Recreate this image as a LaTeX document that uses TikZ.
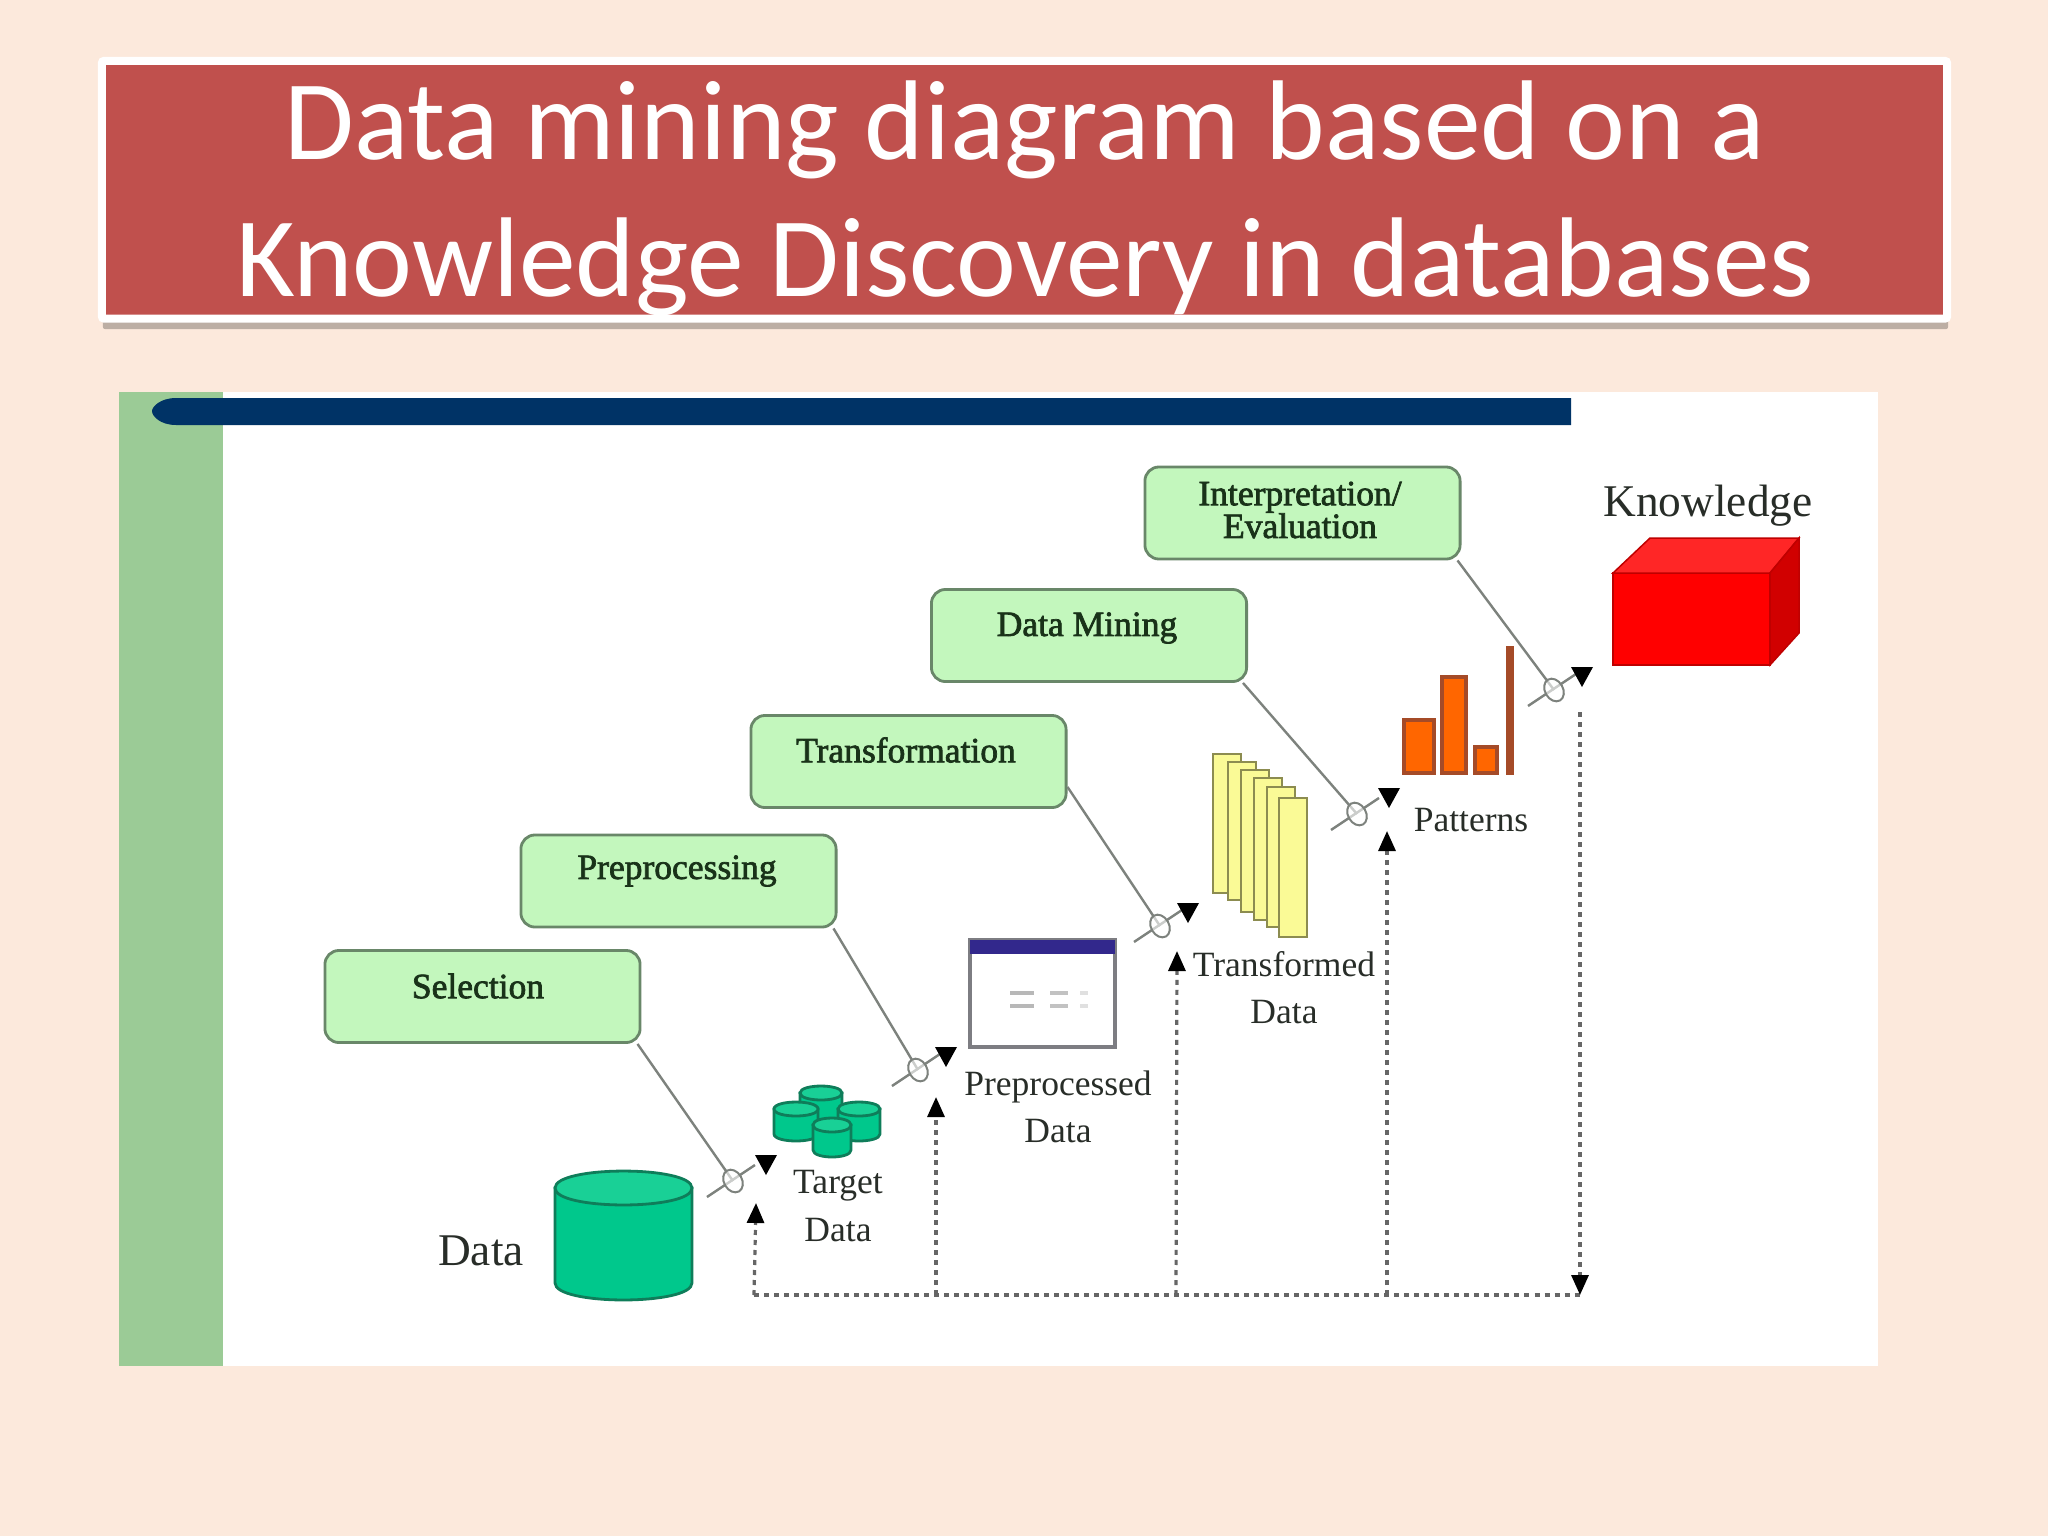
\documentclass[tikz,border=0pt]{standalone}
\usepackage{fontspec}
\usepackage{xcolor}
\usepackage{tikz}
\usetikzlibrary{arrows.meta}
\usetikzlibrary{shadows}
\setmainfont{Liberation Serif}
\newfontfamily\titlefont{Carlito}
\newfontfamily\stepfont[FakeBold=2]{Liberation Serif}

\definecolor{pagecol}{RGB}{252,233,220}
\definecolor{titlecol}{RGB}{192,80,77}
\definecolor{bandcol}{RGB}{155,203,150}
\definecolor{barcol}{RGB}{0,51,102}
\definecolor{stepcol}{RGB}{195,247,189}
\definecolor{stepline}{RGB}{105,135,105}
\definecolor{stickcol}{RGB}{125,130,125}
\definecolor{drumcol}{RGB}{0,200,140}
\definecolor{drumtop}{RGB}{25,208,150}
\definecolor{drumline}{RGB}{15,125,90}
\definecolor{sheetcol}{RGB}{250,250,150}
\definecolor{sheetline}{RGB}{140,140,80}
\definecolor{pillarcol}{RGB}{255,102,0}
\definecolor{pillarline}{RGB}{165,75,40}
\definecolor{inkcol}{RGB}{40,45,40}
\definecolor{stepink}{RGB}{25,50,25}
\definecolor{framecol}{RGB}{125,125,130}
\definecolor{capcol}{RGB}{50,40,140}

% left, right, y of upper rim, rim height, y of lower rim
\newcommand{\drum}[5]{
	\draw[line width=.028cm, draw=drumline, fill=drumcol] (#1,#3) -- (#1,#5) .. controls (#1,#5+1.33*#4) and (#2,#5+1.33*#4) .. (#2,#5) -- (#2,#3) -- cycle;
	\draw[line width=.028cm, draw=drumline, fill=drumtop] (#1,#3) .. controls (#1,#3-1.33*#4) and (#2,#3-1.33*#4) .. (#2,#3) .. controls (#2,#3+1.33*#4) and (#1,#3+1.33*#4) .. (#1,#3) -- cycle;
}

\begin{document}
\begin{tikzpicture}[x=.01cm, y=-.01cm]
				
				\useasboundingbox (0,0) rectangle (2048,1536);
				\fill[pagecol] (0,0) rectangle (2048,1536);
				
				\tikzstyle{stepbox}=[draw=stepline, fill=stepcol, line width=.028cm, rounded corners=.14cm, inner sep=0pt, minimum width=3.15cm, minimum height=.92cm]
				\tikzstyle{steptext}=[inner sep=0pt, text=stepink, align=center, font=\stepfont\fontsize{10.1}{9.3}\selectfont]
				\tikzstyle{label}=[inner sep=0pt, text=inkcol, align=center, font=\fontsize{10.1}{13.4}\selectfont]
				\tikzstyle{biglabel}=[inner sep=0pt, text=inkcol, font=\fontsize{12.9}{15}\selectfont]
				\tikzstyle{stick}=[stickcol, line width=.024cm]
				\tikzstyle{ring}=[stickcol, line width=.02cm, fill=white, fill opacity=.6]
				\tikzstyle{feedback}=[black!60, line width=.032cm, dash pattern=on .05cm off .05cm]
				\tikzstyle{tip}=[-{Triangle[length=.2cm, width=.17cm, black]}]
				\tikzstyle{sheet}=[draw=sheetline, fill=sheetcol, line width=.026cm]
				\tikzstyle{pillar}=[draw=pillarline, fill=pillarcol, line width=.04cm]
				
				%title
				\node[draw=white, fill=titlecol, line width=.08cm, rounded corners=.02cm, minimum width=18.44cm, minimum height=2.575cm, inner sep=0pt, drop shadow={shadow xshift=.01cm, shadow yshift=-.105cm, opacity=.25, fill=black}] (title) at (1024.5,189.75) {};
				\node[inner sep=0pt, text=white, align=center, font=\titlefont\fontsize{32.25}{38.9}\selectfont] (titletext) at (1025,198.5) {Data mining diagram based on a\\Knowledge Discovery in databases};
				
				%picture area
				\fill[white] (119,392) rectangle (1878,1366);
				\fill[bandcol] (119,392) rectangle (223,1366);
				\fill[barcol] (1571,398) -- (176,398) .. controls (160,398) and (152,407) .. (152,411) .. controls (152,416) and (160,425) .. (176,425) -- (1571,425) -- cycle;
				
				%steps
				\node[stepbox] (sel) at (482.5,996.5) {};
				\node[stepbox] (pre) at (678.5,881) {};
				\node[stepbox] (trans) at (908.5,761.5) {};
				\node[stepbox] (mining) at (1089,635.5) {};
				\node[stepbox] (interp) at (1302.5,513) {};
				
				\node[steptext] (seltext) at (478,986) {Selection};
				\node[steptext] (pretext) at (677,871) {Preprocessing};
				\node[steptext] (transtext) at (906,750) {Transformation};
				\node[steptext] (miningtext) at (1087,628) {Data Mining};
				\node[steptext] (interptext) at (1300,510) {Interpretation/\\Evaluation};
				
				%points where the sticks meet
				\coordinate (g1) at (733,1181);
				\coordinate (g2) at (918,1070);
				\coordinate (g3) at (1160,926);
				\coordinate (g4) at (1357,814);
				\coordinate (g5) at (1554,690);
				
				\draw[stick] ([xshift=-.04cm]sel.south east) to (g1);
				\draw[stick] ([xshift=-.04cm]pre.south east) to (g2);
				\draw[stick] ([yshift=.22cm]trans.south east) to (g3);
				\draw[stick] ([xshift=-.05cm]mining.south east) to (g4);
				\draw[stick] ([xshift=-.04cm]interp.south east) to (g5);
				
				\draw[stick] (707,1197) to (755,1165);
				\draw[stick] (892,1086) to (940,1054);
				\draw[stick] (1134,942) to (1182,910);
				\draw[stick] (1331,830) to (1379,798);
				\draw[stick] (1528,706) to (1576,674);
				
				\draw[ring, shift={(g1)}, rotate=30] (0,0) ellipse (9 and 12);
				\draw[ring, shift={(g2)}, rotate=30] (0,0) ellipse (9 and 12);
				\draw[ring, shift={(g3)}, rotate=30] (0,0) ellipse (9 and 12);
				\draw[ring, shift={(g4)}, rotate=30] (0,0) ellipse (9 and 12);
				\draw[ring, shift={(g5)}, rotate=30] (0,0) ellipse (9 and 12);
				
				\fill[black] (755,1155) -- (777,1155) -- (766,1175) -- cycle;
				\fill[black] (935,1047) -- (957,1047) -- (946,1067) -- cycle;
				\fill[black] (1177,903) -- (1199,903) -- (1188,923) -- cycle;
				\fill[black] (1378,788) -- (1400,788) -- (1389,808) -- cycle;
				\fill[black] (1571,667) -- (1593,667) -- (1582,687) -- cycle;
				
				%feedback
				\coordinate (fb0) at (754,1295);
				\coordinate (fb1) at (936,1295);
				\coordinate (fb2) at (1176,1295);
				\coordinate (fb3) at (1387,1295);
				\coordinate (fb4) at (1580,1295);
				\coordinate (up0) at (756,1203);
				\coordinate (up1) at (936,1097);
				\coordinate (up2) at (1177,951);
				\coordinate (up3) at (1387,831);
				\coordinate (up4) at (1580,712);
				
				\draw[feedback] (fb0) to (fb4);
				\draw[feedback, tip] (fb0) to (up0);
				\draw[feedback, tip] (fb1) to (up1);
				\draw[feedback, tip] (fb2) to (up2);
				\draw[feedback, tip] (fb3) to (up3);
				\draw[feedback, tip] (up4) to (fb4);
				
				%data
				\drum{555}{692}{1188}{17}{1283}
				\node[biglabel] (datalabel) at (481,1251) {Data};
				
				%target data
				\drum{800}{842}{1093}{7}{1118}
				\drum{774}{818}{1109}{7}{1134}
				\drum{838}{880}{1109}{7}{1134}
				\drum{813}{851}{1125}{7}{1150}
				\node[label] (targetlabel) at (838,1206) {Target\\Data};
				
				%preprocessed data
				\draw[framecol, line width=.04cm, fill=white] (970,940) rectangle (1115,1047);
				\fill[capcol] (970,940) rectangle (1115,954);
				\draw[black!28, line width=.035cm] (1010,993) to (1034,993);
				\draw[black!28, line width=.035cm] (1010,1006) to (1034,1006);
				\draw[black!24, line width=.035cm] (1050,993) to (1068,993);
				\draw[black!24, line width=.035cm] (1050,1006) to (1068,1006);
				\draw[black!12, line width=.035cm] (1080,993) to (1088,993);
				\draw[black!12, line width=.035cm] (1080,1006) to (1088,1006);
				\node[label] (prelabel) at (1058,1107) {Preprocessed\\Data};
				
				%transformed data
				\draw[sheet] (1213,754) rectangle (1241,893);
				\draw[sheet] (1228,762) rectangle (1256,900);
				\draw[sheet] (1241,770) rectangle (1269,912);
				\draw[sheet] (1254,778) rectangle (1282,920);
				\draw[sheet] (1267,787) rectangle (1295,927);
				\draw[sheet] (1279,798) rectangle (1307,937);
				\node[label] (translabel) at (1284,988) {Transformed\\Data};
				
				%patterns
				\draw[pillar] (1404,720) rectangle (1434,773);
				\draw[pillar] (1442,677) rectangle (1466,773);
				\draw[pillar] (1475,747) rectangle (1497,773);
				\draw[pillar, fill=pillarline!90!pillarcol] (1508,648) rectangle (1512,773);
				\node[label] (patlabel) at (1471,820) {Patterns};
				
				%knowledge
				\draw[line width=.015cm, draw=red!75!black, fill=red] (1613,573) rectangle (1770,665);
				\draw[line width=.015cm, draw=red!75!black, fill=red!85!white] (1613,573) -- (1650,538) -- (1799,538) -- (1770,573) -- cycle;
				\draw[line width=.015cm, draw=red!75!black, fill=red!82!black] (1770,573) -- (1799,538) -- (1799,633) -- (1770,665) -- cycle;
				\node[biglabel] (knowlabel) at (1708,506) {Knowledge};
				
			\end{tikzpicture}
\end{document}
